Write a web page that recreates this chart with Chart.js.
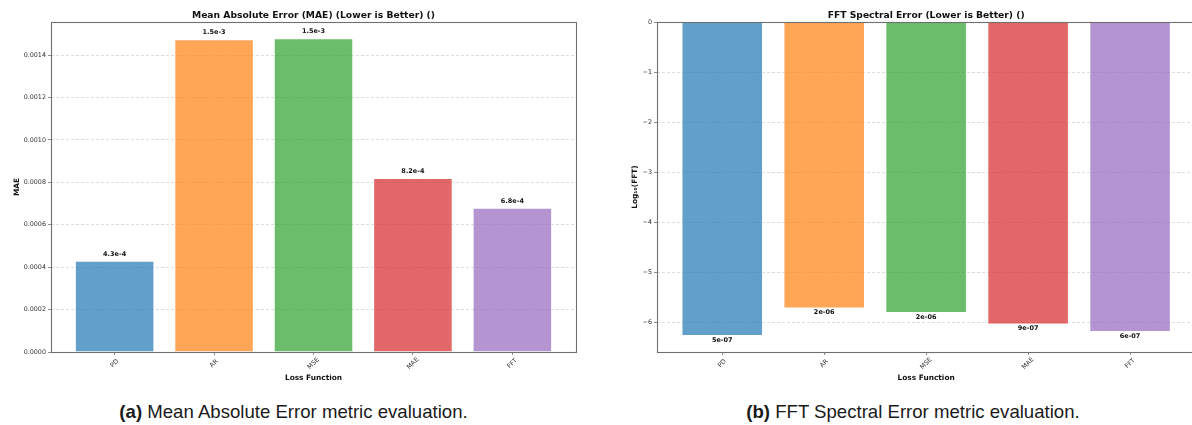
<!DOCTYPE html>
<html>
<head>
<meta charset="utf-8">
<script src="https://cdn.jsdelivr.net/npm/chart.js@4.4.1/dist/chart.umd.min.js"></script>
<style>
  html, body { margin: 0; padding: 0; background: #fff; width: 1192px; height: 425px; overflow: hidden; }
  #fig { position: relative; width: 1192px; height: 425px; overflow: hidden; }
  canvas { position: absolute; top: 0; }
  #maeChart { left: 0; }
  #fftChart { left: 596px; }
  .cap { position: absolute; top: 401.5px; font-family: "Liberation Sans", Arial, sans-serif; font-size: 18.6px;
         line-height: 20px; color: #1a1a1a; text-align: center; white-space: nowrap; }
</style>
</head>
<body>
<div id="fig">
  <canvas id="maeChart" width="596" height="392"></canvas>
  <canvas id="fftChart" width="620" height="392"></canvas>
  <div class="cap" style="left:0;width:587px"><b>(a)</b> Mean Absolute Error metric evaluation.</div>
  <div class="cap" style="left:596px;width:634px"><b>(b)</b> FFT Spectral Error metric evaluation.</div>
</div>
<script>
// Loss functions compared in both panels
const lossFunctions = ['PD', 'AR', 'MSE', 'MAE', 'FFT'];
// Mean absolute error per loss function
const maeValues = [0.00043, 0.001475, 0.00148, 0.00082, 0.00068];
// log10 of the FFT spectral error per loss function
const fftLog10Values = [-6.28, -5.73, -5.82, -6.05, -6.20];
// y-axis ticks
const maeTicks = [0, 0.0002, 0.0004, 0.0006, 0.0008, 0.0010, 0.0012, 0.0014];
const fftTicks = [-6, -5, -4, -3, -2, -1, 0];
// tab10 palette at 70% opacity
const barColors = [
  'rgba(31,119,180,0.7)',
  'rgba(255,127,14,0.7)',
  'rgba(44,160,44,0.7)',
  'rgba(214,39,40,0.7)',
  'rgba(148,103,189,0.7)'
];

const FONT = '"DejaVu Sans", sans-serif';

// Value labels, rotated category labels and the axes frame
function decorations(labelFormat) {
  return {
    id: 'decorations',
    afterDatasetsDraw(chart) {
      const ctx = chart.ctx;
      const a = chart.chartArea;
      const xs = chart.scales.x;
      const ds = chart.data.datasets[0];
      ctx.save();
      ctx.font = 'bold 6.5px ' + FONT;
      ctx.fillStyle = '#111';
      ctx.textAlign = 'center';
      chart.getDatasetMeta(0).data.forEach((bar, i) => {
        const v = ds.data[i].y;
        const txt = labelFormat(v);
        if (v >= 0) {
          ctx.textBaseline = 'bottom';
          ctx.fillText(txt, bar.x, bar.y - 3.5);
        } else {
          ctx.textBaseline = 'top';
          ctx.fillText(txt, bar.x, bar.y + 1);
        }
      });

      ctx.strokeStyle = '#707070';
      ctx.lineWidth = 1.1;
      ctx.strokeRect(Math.round(a.left) + 0.5, Math.round(a.top) + 0.5,
                     Math.round(a.right - a.left), Math.round(a.bottom - a.top));

      ctx.font = '6.4px ' + FONT;
      ctx.fillStyle = '#333';
      ctx.textAlign = 'center';
      ctx.textBaseline = 'middle';
      lossFunctions.forEach((name, i) => {
        const px = xs.getPixelForValue(i);
        ctx.save();
        ctx.translate(px, a.bottom + 11.5);
        ctx.rotate(-Math.PI / 4);
        ctx.fillText(name, 0, 0);
        ctx.restore();
      });
      ctx.restore();
    }
  };
}

function makeChart(canvasId, cfg) {
  return new Chart(document.getElementById(canvasId), {
    type: 'bar',
    data: {
      datasets: [{
        data: cfg.values.map((v, i) => ({ x: i, y: v })),
        backgroundColor: barColors,
        borderColor: 'rgba(255,255,255,0.45)',
        borderWidth: 1,
        barPercentage: 0.8,
        categoryPercentage: 1.0
      }]
    },
    options: {
      responsive: false,
      animation: false,
      events: [],
      layout: { padding: { left: 0, top: 0, bottom: 0, right: cfg.padRight } },
      plugins: {
        legend: { display: false },
        tooltip: { enabled: false },
        title: {
          display: true,
          text: cfg.title,
          fullSize: false,
          color: '#111',
          font: { family: FONT, size: 9.2, weight: 'bold', lineHeight: 1.2 },
          padding: { top: 10, bottom: 1 }
        }
      },
      scales: {
        x: {
          type: 'linear',
          min: -0.64,
          max: 4.64,
          offset: false,
          afterBuildTicks: s => { s.ticks = lossFunctions.map((_, i) => ({ value: i })); },
          afterFit: s => { s.height = 40; },
          ticks: { display: false },
          grid: {
            display: true, drawOnChartArea: false, drawTicks: true, tickLength: 3,
            tickColor: '#707070', tickWidth: 0.8, offset: false
          },
          border: { display: false },
          title: {
            display: true, text: 'Loss Function', color: '#111',
            font: { family: FONT, size: 7.4, weight: 'bold', lineHeight: 1.2 },
            padding: { top: 0, bottom: 9 }
          }
        },
        y: {
          min: cfg.yMin,
          max: cfg.yMax,
          afterBuildTicks: s => { s.ticks = cfg.yTicks.map(v => ({ value: v })); },
          afterFit: s => { s.width = cfg.chartLeft; },
          ticks: {
            callback: cfg.tickFormat,
            color: '#333',
            padding: 2,
            font: { family: FONT, size: 6.4 }
          },
          grid: {
            color: 'rgba(0,0,0,0.17)',
            lineWidth: 0.8,
            borderDash: [3, 2],
            drawTicks: true,
            tickLength: 3,
            tickColor: '#707070',
            tickWidth: 0.8,
            tickBorderDash: []
          },
          border: { display: false, dash: [3, 2] },
          title: {
            display: true, text: cfg.yTitle, color: '#111',
            font: { family: FONT, size: 7.4, weight: 'bold', lineHeight: 1.2 },
            padding: { top: cfg.yTitlePad, bottom: 0 }
          }
        }
      }
    },
    plugins: [decorations(cfg.labelFormat)]
  });
}

makeChart('maeChart', {
  values: maeValues,
  title: 'Mean Absolute Error (MAE) (Lower is Better) ()',
  yTitle: 'MAE',
  yMin: 0,
  yMax: 0.001556,
  yTicks: maeTicks,
  tickFormat: v => Number(v).toFixed(4),
  labelFormat: v => v.toExponential(1),
  chartLeft: 51,
  yTitlePad: 12.3,
  padRight: 20
});

makeChart('fftChart', {
  values: fftLog10Values,
  title: 'FFT Spectral Error (Lower is Better) ()',
  yTitle: 'Log\u2081\u2080(FFT)',
  yMin: -6.6,
  yMax: 0,
  yTicks: fftTicks,
  tickFormat: v => (v < 0 ? '\u2212' + Math.abs(v) : String(v)),
  labelFormat: v => {
    const s = Math.pow(10, v).toExponential(0);
    const [m, e] = s.split('e');
    const sign = e[0] === '-' ? '-' : '+';
    const digits = e.replace(/^[+-]/, '').padStart(2, '0');
    return m + 'e' + sign + digits;
  },
  chartLeft: 61,
  yTitlePad: 35,
  padRight: 20.7
});
</script>
</body>
</html>
